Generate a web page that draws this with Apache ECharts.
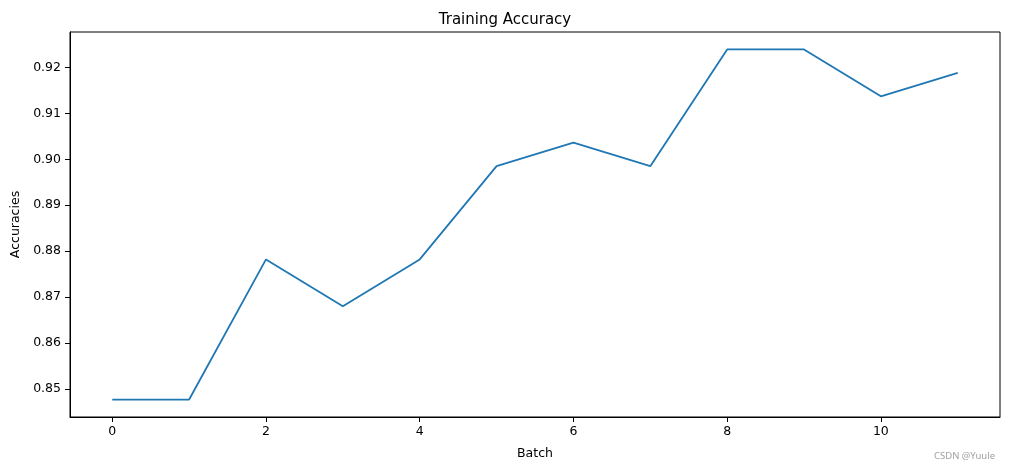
<!DOCTYPE html>
<html>
<head>
<meta charset="utf-8">
<script src="https://cdn.jsdelivr.net/npm/echarts@6/dist/echarts.min.js"></script>
<style>html,body{margin:0;padding:0;background:#fff;}#c{width:1010px;height:470px;}</style>
</head>
<body>
<div id="c"></div>
<script>
const batches = [0, 1, 2, 3, 4, 5, 6, 7, 8, 9, 10, 11];
const accuracies = [0.8477, 0.8477, 0.8782, 0.8680, 0.8782, 0.8985, 0.9036, 0.8985, 0.9239, 0.9239, 0.9137, 0.9188];
const xTicks = [0, 2, 4, 6, 8, 10];
const yTicks = [0.85, 0.86, 0.87, 0.88, 0.89, 0.90, 0.91, 0.92];

const font = 'DejaVu Sans';
const chart = echarts.init(document.getElementById('c'), null, {renderer: 'canvas'});
chart.setOption({
  animation: false,
  backgroundColor: '#ffffff',
  title: {
    text: 'Training Accuracy', left: 'center', top: 8,
    textStyle: {fontFamily: font, fontSize: 15, fontWeight: 'normal', color: '#000'}
  },
  grid: {left: 70, right: 10, top: 32, bottom: 53, show: true, borderColor: '#000', borderWidth: 1, backgroundColor: 'transparent', containLabel: false, outerBoundsMode: 'none'},
  xAxis: {
    type: 'value', min: -0.55, max: 11.55,
    name: 'Batch', nameLocation: 'middle', nameGap: 30,
    nameTextStyle: {fontFamily: font, fontSize: 12.5, color: '#000'},
    axisLine: {show: true, onZero: false, lineStyle: {color: '#000', width: 1}},
    axisTick: {show: true, length: 5, lineStyle: {color: '#000'}, customValues: xTicks},
    axisLabel: {fontFamily: font, fontSize: 12.5, color: '#000', margin: 8, customValues: xTicks, formatter: v => String(v)},
    splitLine: {show: false}
  },
  yAxis: {
    type: 'value', min: 0.8439, max: 0.9277,
    name: 'Accuracies', nameLocation: 'middle', nameGap: 47, nameRotate: 90,
    nameTextStyle: {fontFamily: font, fontSize: 12.5, color: '#000'},
    axisLine: {show: true, onZero: false, lineStyle: {color: '#000', width: 1}},
    axisTick: {show: true, length: 5, lineStyle: {color: '#000'}, customValues: yTicks},
    axisLabel: {fontFamily: font, fontSize: 12.5, color: '#000', margin: 9, customValues: yTicks, formatter: v => v.toFixed(2)},
    splitLine: {show: false}
  },
  graphic: [{
    type: 'text', right: 15, top: 451,
    style: {text: 'CSDN @Yuule', fontFamily: 'Noto Sans', fontSize: 9.5, fill: '#a0a0a0'}
  }],
  series: [{
    type: 'line',
    data: batches.map((b, i) => [b, accuracies[i]]),
    showSymbol: false,
    lineStyle: {color: '#1f77b4', width: 1.8},
    itemStyle: {color: '#1f77b4'}
  }]
});
</script>
</body>
</html>
